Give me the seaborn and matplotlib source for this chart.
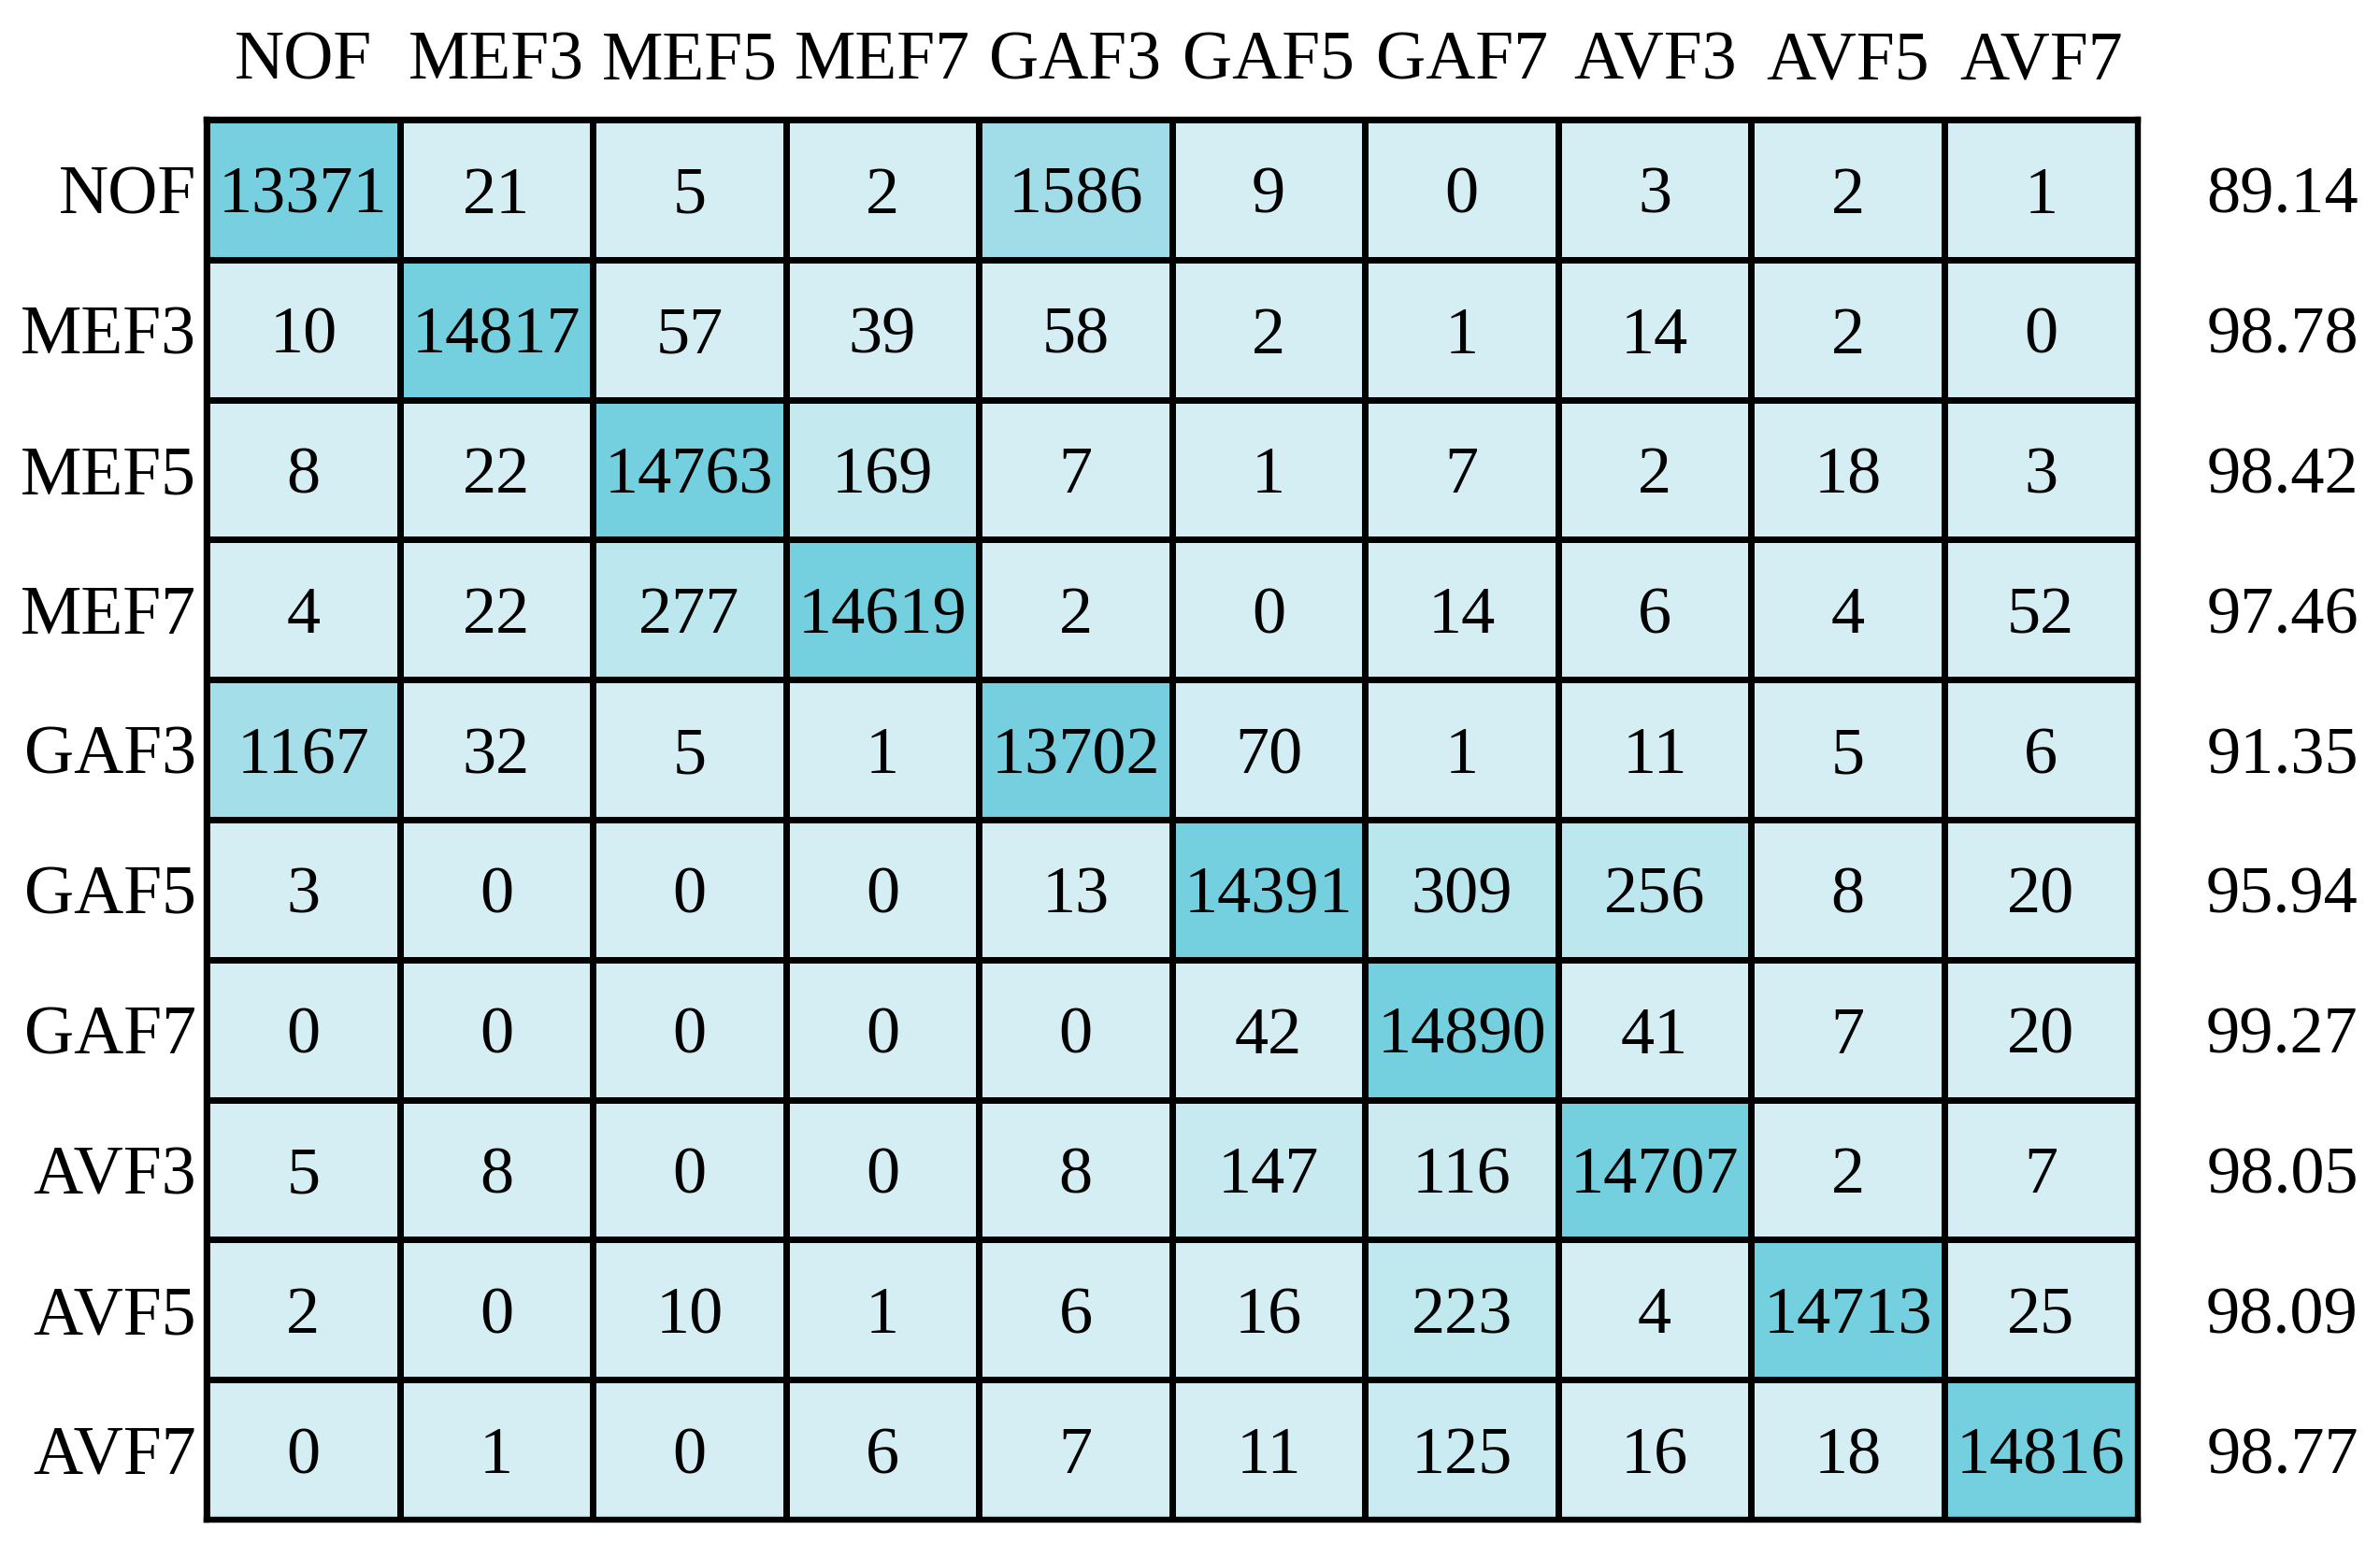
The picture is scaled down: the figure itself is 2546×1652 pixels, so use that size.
import numpy as np
import pandas as pd
import seaborn as sns
import matplotlib.pyplot as plt
from matplotlib.colors import LinearSegmentedColormap, LogNorm

# ------------------------------------------ #
#                   data                     #
# ------------------------------------------ #

classes = ["NOF", "MEF3", "MEF5", "MEF7", "GAF3", "GAF5", "GAF7", "AVF3", "AVF5", "AVF7"]

row_nof = [13371, 21, 5, 2, 1586, 9, 0, 3, 2, 1]
row_mef3 = [10, 14817, 57, 39, 58, 2, 1, 14, 2, 0]
row_mef5 = [8, 22, 14763, 169, 7, 1, 7, 2, 18, 3]
row_mef7 = [4, 22, 277, 14619, 2, 0, 14, 6, 4, 52]
row_gaf3 = [1167, 32, 5, 1, 13702, 70, 1, 11, 5, 6]
row_gaf5 = [3, 0, 0, 0, 13, 14391, 309, 256, 8, 20]
row_gaf7 = [0, 0, 0, 0, 0, 42, 14890, 41, 7, 20]
row_avf3 = [5, 8, 0, 0, 8, 147, 116, 14707, 2, 7]
row_avf5 = [2, 0, 10, 1, 6, 16, 223, 4, 14713, 25]
row_avf7 = [0, 1, 0, 6, 7, 11, 125, 16, 18, 14816]

# per-class accuracy (%) shown at the right
accuracy = ["89.14", "98.78", "98.42", "97.46", "91.35", "95.94", "99.27", "98.05", "98.09", "98.77"]

cm = pd.DataFrame(
    [row_nof, row_mef3, row_mef5, row_mef7, row_gaf3,
     row_gaf5, row_gaf7, row_avf3, row_avf5, row_avf7],
    index=classes, columns=classes,
)

# ------------------------------------------ #
#                   plot                     #
# ------------------------------------------ #

sns.set_theme(style="white")
plt.rcParams['font.family'] = ['Liberation Serif', 'DejaVu Serif']
plt.rcParams['text.color'] = 'black'

# light cyan -> teal, on a log scale so the off-diagonal errors show up
cyan = LinearSegmentedColormap.from_list("cyan", [
    (0.0, '#D4EEF3'),
    (0.13, '#CAEBF1'),
    (0.19, '#C4EAF0'),
    (0.30, '#BAE6EE'),
    (0.54, '#A4DEE9'),
    (0.60, '#A1DDE8'),
    (1.0, '#74CFDF'),
])
norm = LogNorm(vmin=60, vmax=14890, clip=True)

fig = plt.figure(figsize=(25.46, 16.52), dpi=100)
ax = fig.add_axes([0.0868, 0.01574, 0.8113, 0.9068])

sns.heatmap(
    cm.clip(lower=1),
    ax=ax,
    cmap=cyan,
    norm=norm,
    cbar=False,
    annot=cm.values,
    fmt='d',
    annot_kws={'fontsize': 52, 'color': 'black', 'va': 'center_baseline'},
    linewidths=3.8,
    linecolor='black',
)

# accuracy column to the right of the grid
for i, acc in enumerate(accuracy):
    ax.text(10.75, i + 0.5, acc, ha='center', va='center_baseline',
            fontsize=52, color='black', clip_on=False)

ax.xaxis.tick_top()
ax.set_xticklabels(classes, fontsize=53, rotation=0, color='black')
ax.set_yticklabels(classes, fontsize=53, rotation=0, va='center_baseline', color='black')
ax.tick_params(axis='x', length=0, pad=20)
ax.tick_params(axis='y', length=0, pad=8)
ax.set_xlabel('')
ax.set_ylabel('')

for spine in ax.spines.values():
    spine.set_visible(True)
    spine.set_linewidth(4.6)
    spine.set_color('black')

fig.savefig('out.png', dpi=100, facecolor='white')
